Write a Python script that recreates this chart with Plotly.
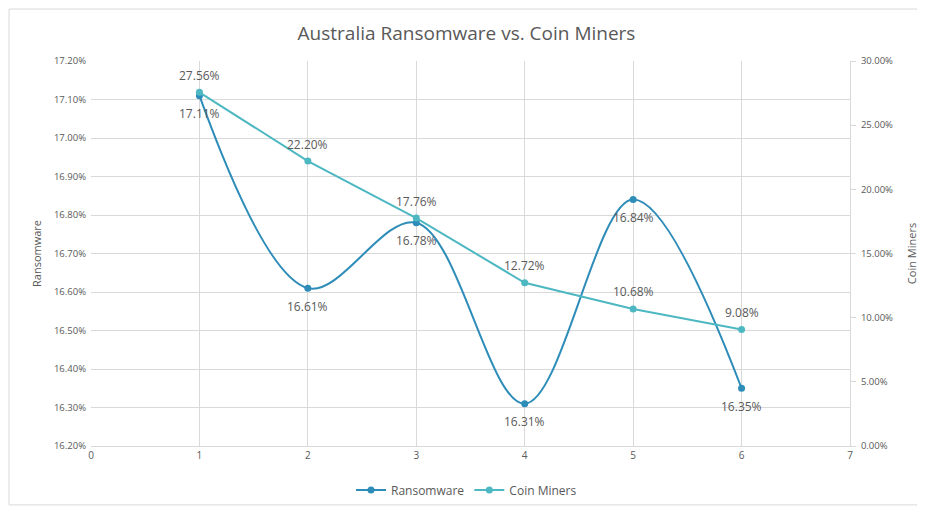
import plotly.graph_objects as go

# data
x_vals = [1, 2, 3, 4, 5, 6]
ransomware = [0.1711, 0.1661, 0.1678, 0.1631, 0.1684, 0.1635]
coin_miners = [0.2756, 0.2220, 0.1776, 0.1272, 0.1068, 0.0908]

ransom_color = "#2E8DB8"
coin_color = "#4DB8C2"
grey = "#595959"
font_name = "Open Sans"

fig = go.Figure()

fig.add_trace(go.Scatter(
    x=x_vals, y=ransomware, name="Ransomware",
    mode="lines+markers",
    line=dict(color=ransom_color, width=2, shape="spline", smoothing=1.0),
    marker=dict(size=7, color=ransom_color),
))

fig.add_trace(go.Scatter(
    x=x_vals, y=coin_miners, name="Coin Miners", yaxis="y2",
    mode="lines+markers",
    line=dict(color=coin_color, width=2),
    marker=dict(size=7, color=coin_color),
))

# data labels, Excel puts them a bit further from the points than plotly text does
labels = []
for xv, v in zip(x_vals, ransomware):
    labels.append(dict(x=xv, y=v, xref="x", yref="y", text=f"{v*100:.2f}%", showarrow=False,
                       yshift=-18, font=dict(size=12, color=grey, family=font_name)))
for xv, v in zip(x_vals, coin_miners):
    labels.append(dict(x=xv, y=v, xref="x", yref="y2", text=f"{v*100:.2f}%", showarrow=False,
                       yshift=17, font=dict(size=12, color=grey, family=font_name)))

# page has an 8px body margin, so the figure is a bit smaller and shifted
fig.update_layout(
    width=917, height=501,
    paper_bgcolor="white", plot_bgcolor="white",
    margin=dict(l=83, r=75, t=53, b=63, autoexpand=False),
    font=dict(family=font_name, color=grey, size=10),
    title=dict(text="Australia Ransomware vs. Coin Miners", x=0.5, xanchor="center",
               y=0.950, yanchor="middle", font=dict(size=19, color=grey, family=font_name)),
    xaxis=dict(range=[0, 7], dtick=1, showgrid=True, gridcolor="#D9D9D9", zeroline=False,
               showline=True, linecolor="#D9D9D9", ticks="", automargin=False,
               tickfont=dict(size=10, color=grey)),
    yaxis=dict(range=[0.162, 0.172], dtick=0.001, tickformat=".2%", showgrid=True,
               gridcolor="#D9D9D9", zeroline=False, showline=False, automargin=False,
               ticklabelstandoff=4,
               title=dict(text="Ransomware", font=dict(size=11, color=grey), standoff=10),
               tickfont=dict(size=9.5, color=grey)),
    yaxis2=dict(range=[0, 0.30], dtick=0.05, tickformat=".2%", overlaying="y", side="right",
                showgrid=False, zeroline=False, showline=True, linecolor="#D9D9D9",
                ticks="outside", ticklen=5, tickcolor="#D9D9D9", automargin=False,
                ticklabelstandoff=3,
                title=dict(text="Coin Miners", font=dict(size=11, color=grey), standoff=16),
                tickfont=dict(size=9.5, color=grey)),
    legend=dict(orientation="h", x=0.5, xanchor="center", xref="container",
                y=0.038, yanchor="middle", yref="container",
                font=dict(size=12, color=grey), itemwidth=30),
    annotations=labels,
    shapes=[dict(type="rect", xref="paper", yref="paper", x0=-0.108, x1=1.092, y0=-0.153, y1=1.135,
                 line=dict(color="#D9D9D9", width=1), layer="below")],
)

fig.write_html("out.html")
